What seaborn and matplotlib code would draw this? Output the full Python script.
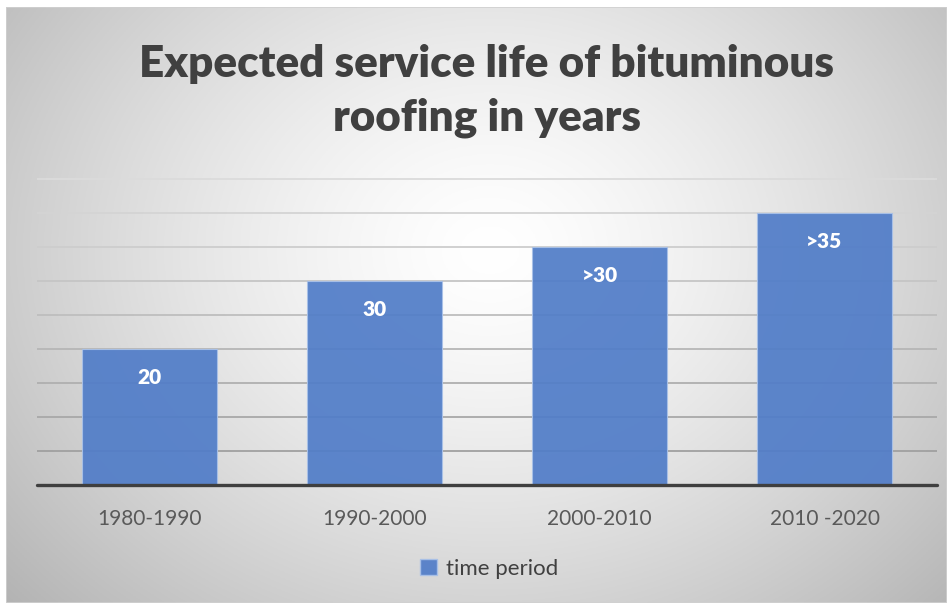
import numpy as np
import pandas as pd
import matplotlib
matplotlib.use("Agg")
import matplotlib.pyplot as plt
from matplotlib.patches import Patch
import seaborn as sns

# ---- data ----
periods = ["1980-1990", "1990-2000", "2000-2010", "2010 -2020"]
service_life = [20, 30, 35, 40]
value_labels = ["20", "30", ">30", ">35"]
series_name = "time period"
title = "Expected service life of bituminous\nroofing in years"

sns.set_theme(style="white")
plt.rcParams["font.family"] = ["Lato", "DejaVu Sans"]

W, H = 953, 605
fig = plt.figure(figsize=(W / 100, H / 100), dpi=100)
fig.patch.set_facecolor("white")

bar_color = "#517DC8"
bar_alpha = 0.93

# background chart area with radial gradient
bx0, bx1, by0, by1 = 6, 947, 7, 603
bg = fig.add_axes([bx0 / W, 1 - by1 / H, (bx1 - bx0) / W, (by1 - by0) / H], zorder=0)
gx = np.linspace(0, bx1 - bx0, 400)
gy = np.linspace(0, by1 - by0, 260)
GX, GY = np.meshgrid(gx, gy)
cx, cy = 490 - bx0, 250 - by0
r = np.sqrt(((GX - cx) / 540) ** 2 + ((GY - cy) / 440) ** 2)
val = 1.0 - 0.23 * np.clip(r, 0, 1.3) ** 1.4
img = np.dstack([val, val, val])
bg.imshow(img, aspect="auto", extent=[0, 1, 0, 1], origin="upper")
bg.set_axis_off()
bg.add_patch(plt.Rectangle((0, 0), 1, 1, transform=bg.transAxes, fill=False,
                           edgecolor="#d0d0d0", lw=1.2))

# main plot axes
px0, px1 = 37, 937
ybase = 485
ppu = 34 / 5.0
ytop_val = 46
ytop_px = ybase - ytop_val * ppu
ax = fig.add_axes([px0 / W, 1 - ybase / H, (px1 - px0) / W, (ybase - ytop_px) / H], zorder=1)
ax.patch.set_alpha(0)

df = pd.DataFrame({"period": periods, "life": service_life})
sns.barplot(data=df, x="period", y="life", color=bar_color, alpha=bar_alpha,
            saturation=1, width=0.6, ax=ax, zorder=3, edgecolor="#a9c1e8",
            linewidth=0.8)
ax.set_ylim(0, ytop_val)
ax.set_xlim(-0.5, len(periods) - 0.5)
ax.set_yticks(np.arange(0, 50, 5))
ax.set_yticklabels([])
ax.tick_params(axis="y", length=0)
ax.tick_params(axis="x", length=0, pad=17, labelsize=15, labelcolor="#595959")
ax.set_xlabel("")
ax.set_ylabel("")
for s in ax.spines.values():
    s.set_visible(False)
ax.yaxis.grid(True)
glines = ax.get_ygridlines()
n = len(glines)
for i, gl in enumerate(glines):
    t = i / (n - 1)
    c = 0.60 + 0.26 * t
    gl.set_color((c, c, c))
    gl.set_linewidth(1.3)
    gl.set_zorder(1)
glines[0].set_visible(False)
ax.axhline(0, color="#3f3f3f", lw=2.4, zorder=4, clip_on=False)

for p, lab in zip(ax.patches, value_labels):
    ax.annotate(lab, (p.get_x() + p.get_width() / 2, p.get_height()),
                xytext=(0, -20.5), textcoords="offset points",
                ha="center", va="center", color="white",
                fontsize=15, fontweight="heavy", zorder=5)

fig.text(487 / W, 1 - 91 / H, title, ha="center", va="center", fontsize=31.7,
         fontweight="heavy", color="#404040", linespacing=1.38)

handle = Patch(facecolor=bar_color, alpha=bar_alpha, edgecolor="#a9c1e8")
leg = fig.legend(handles=[handle], labels=[series_name], loc="center",
                 bbox_to_anchor=(489 / W, 1 - 569 / H), frameon=False,
                 fontsize=16, handlelength=0.75, handleheight=0.75,
                 handletextpad=0.4)
for t in leg.get_texts():
    t.set_color("#404040")

fig.savefig("out.png", dpi=100)
